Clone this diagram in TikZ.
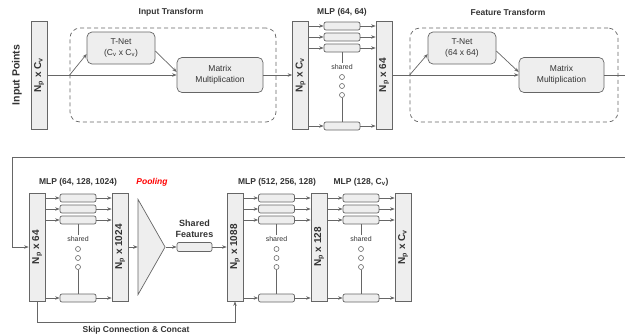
\documentclass[tikz,border=0pt]{standalone}
\usepackage{fontspec}
\usepackage{graphicx}
\setmainfont{Liberation Sans}
\usetikzlibrary{arrows.meta,shapes.geometric,positioning}
\definecolor{linegray}{HTML}{666666}
\definecolor{boxgray}{HTML}{EEEEEE}
\definecolor{textgray}{HTML}{333333}

\begin{document}
\begin{tikzpicture}
	[
		x=1pt, y=-1pt,
		every node/.style = {text=textgray},
		block/.style = {draw=linegray, line width=0.7pt, fill=boxgray, minimum width=16pt, minimum height=108pt, inner sep=0pt, font=\bfseries\fontsize{10}{12}\selectfont},
		fc/.style = {draw=linegray, line width=0.7pt, fill=boxgray, rounded corners=2pt, minimum width=36pt, minimum height=8pt, inner sep=0pt},
		op/.style = {draw=linegray, line width=0.7pt, fill=boxgray, rounded corners=5pt, align=center, inner sep=0pt, font=\fontsize{8.5}{11}\selectfont},
		group/.style = {draw=linegray, line width=0.7pt, dash pattern=on 4pt off 3pt, rounded corners=10pt, inner sep=0pt},
		title/.style = {font=\bfseries\fontsize{8.5}{10}\selectfont},
		arr/.style = {draw=linegray, line width=0.7pt, -{Stealth[length=4.5pt,width=3.5pt]}},
		ln/.style = {draw=linegray, line width=0.7pt},
		dot/.style = {circle, draw=linegray, line width=0.6pt, minimum size=5pt, inner sep=0pt},
	]

  \useasboundingbox (0,0) rectangle (625,335);

  % input transform
  \node[rotate=90, font=\bfseries\fontsize{10.5}{12}\selectfont] (inpts) at (17,75) {Input Points};
  \node[block] (in) at (39,75) {\rotatebox{90}{N\textsubscript{p} x C\textsubscript{v}}};
  \node[group, minimum width=206pt, minimum height=94pt] (itbox) at (173,75) {};
  \node[title] (ittitle) at (171,12) {Input Transform};
  \node[op, minimum width=68pt, minimum height=32pt] (tnet1) at (121,48) {T-Net\\(C\textsubscript{v} x C\textsubscript{v})};
  \node[op, minimum width=86pt, minimum height=35pt] (mm1) at (220,75) {Matrix\\Multiplication};

  % shared mlp
  \node[block] (b1) at (300.5,75) {\rotatebox{90}{N\textsubscript{p} x C\textsubscript{v}}};
  \node[block] (b2) at (384,75) {\rotatebox{90}{N\textsubscript{p} x 64}};
  \node[title] (mlp1) at (342,12) {MLP (64, 64)};

  % feature transform
  \node[group, minimum width=208pt, minimum height=94pt] (ftbox) at (514,75) {};
  \node[title] (fttitle) at (508,12) {Feature Transform};
  \node[op, minimum width=68pt, minimum height=32pt] (tnet2) at (462,48) {T-Net\\(64 x 64)};
  \node[op, minimum width=85pt, minimum height=35pt] (mm2) at (561.5,75) {Matrix\\Multiplication};
  \coordinate (out) at (625,75);

  \draw[arr] (in.east) -- (mm1.west);
  \draw[arr] (itbox.west) -- (tnet1.190);
  \draw[arr] (tnet1.355) -- (mm1.176);
  \draw[arr] (mm1.east) -- (b1.west);
  \draw[arr] (b2.east) -- (mm2.west);
  \draw[arr] (ftbox.west) -- (tnet2.190);
  \draw[arr] (tnet2.355) -- (mm2.176);
  \draw[ln] (mm2.east) -- (out);

  % second row
  \node[block] (c1) at (37,247) {\rotatebox{90}{N\textsubscript{p} x 64}};
  \node[block] (c2) at (120,247) {\rotatebox{90}{N\textsubscript{p} x 1024}};
  \node[draw=linegray, line width=0.7pt, fill=boxgray, isosceles triangle, isosceles triangle stretches, shape border rotate=0, minimum width=95pt, minimum height=27pt, inner sep=0pt, anchor=apex] (pool) at (166,247) {};
  \node[fc, minimum width=35pt, minimum height=9pt] (sf) at (194.5,247) {};
  \node[title, align=center, font=\bfseries\fontsize{9}{11}\selectfont, above=1pt of sf] (sftext) {Shared\\Features};
  \node[block] (c3) at (235,247) {\rotatebox{90}{N\textsubscript{p} x 1088}};
  \node[block] (c4) at (319,247) {\rotatebox{90}{N\textsubscript{p} x 128}};
  \node[block] (c5) at (403,247) {\rotatebox{90}{N\textsubscript{p} x C\textsubscript{v}}};

  \node[title] (mlp2) at (78,182) {MLP (64, 128, 1024)};
  \node[title, font=\bfseries\itshape\fontsize{8.5}{10}\selectfont, text=red] (pooltitle) at (152,182) {Pooling};
  \node[title] (mlp3) at (277,182) {MLP (512, 256, 128)};
  \node[title] (mlp4) at (361,182) {MLP (128, C\textsubscript{v})};

  \coordinate (fbr) at (625,157);
  \coordinate (fbl) at (12,157);
  \draw[arr] (fbr) -- (fbl) |- (c1.west);
  \draw[arr] (c2.east) -- (c2.east -| pool.west);
  \draw[arr] (pool.apex) -- (sf.west);
  \draw[arr] (sf.east) -- (c3.west);
  \draw[arr] (c1.south) -- ++(0,21) -| node[title, pos=0.25, below=0pt] {Skip Connection \& Concat} (c3.south);

  % mlp rows
  \foreach \g/\x/\y/\lb/\rb in {m/342/21/b1/b2, n/78/193/c1/c2, o/276.5/193/c3/c4, q/361/193/c4/c5}
  {
    \foreach \k/\dy in {1/5, 2/16, 3/27, 4/105}
    {
      \node[fc] (\g\k) at (\x,\y+\dy) {};
      \draw[arr] (\lb.east |- \g\k.west) -- (\g\k.west);
      \draw[arr] (\g\k.east) -- (\rb.west |- \g\k.east);
    }
    \node[font=\fontsize{7}{8}\selectfont, inner sep=1pt] (\g s) at (\x,\y+46) {shared};
    \foreach \i/\cy in {1/56, 2/65, 3/74}
      \node[dot] (\g c\i) at (\x,\y+\cy) {};
    \draw[ln] (\g3.south) -- (\g s.north);
    \draw[ln] (\g c3.south) -- (\g4.north);
  }

\end{tikzpicture}
\end{document}
